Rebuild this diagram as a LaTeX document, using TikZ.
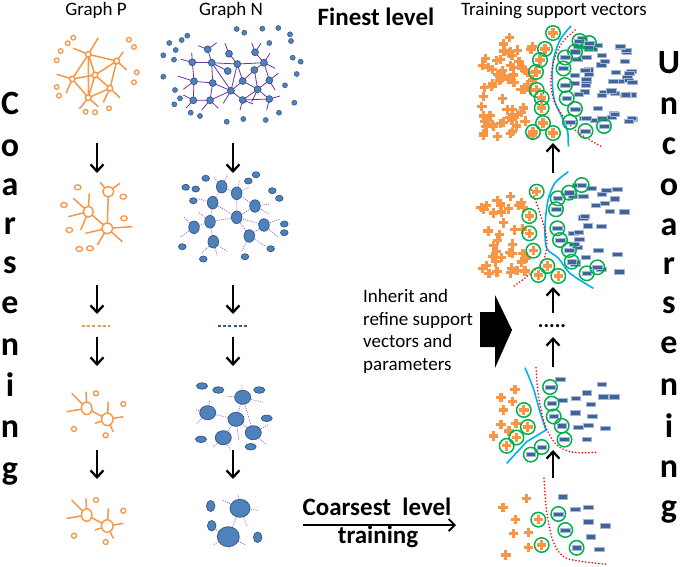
\documentclass[tikz,border=0pt]{standalone}
\usepackage{fontspec}
\setmainfont{Carlito}
\usetikzlibrary{arrows.meta,shapes.geometric}
\definecolor{orP}{HTML}{F79646}
\definecolor{nodeB}{HTML}{4F81BD}
\definecolor{nodeE}{HTML}{385D8A}
\definecolor{purp}{HTML}{7030A0}
\definecolor{purpL}{HTML}{9A66CC}
\definecolor{minusC}{HTML}{41639A}
\definecolor{minusE}{HTML}{A3B6D3}
\definecolor{svG}{HTML}{00B050}
\definecolor{cyanL}{HTML}{00B0F0}
\tikzset{
 pedge/.style={draw=orP, line width=1.5pt},
 pnode/.style={draw=orP, fill=white, line width=1.4pt, inner sep=0pt},
 nedge/.style={draw=purp, line width=0.8pt},
 ndot/.style={draw=purpL, line width=0.8pt, dash pattern=on 1pt off 1.2pt},
 nnode/.style={draw=nodeE, fill=nodeB, line width=0.8pt, inner sep=0pt},
 darr/.style={line width=2.3pt, -{Straight Barb[length=7pt,width=13pt]}},
 svc/.style={draw=svG, line width=1.5pt, circle, minimum size=14.5pt, inner sep=0pt},
 cyl/.style={draw=cyanL, line width=1.6pt},
 redl/.style={draw=red, line width=1.8pt, line cap=round, dash pattern=on 0pt off 3.3pt},
 pls/.pic={\draw[orP, line width=3.2pt] (-4.7,0)--(4.7,0) (0,-4.7)--(0,4.7);},
 mns/.pic={\draw[fill=minusC, draw=minusE, line width=0.6pt] (-4.8,-2.1) rectangle (4.8,2.1);},
 lbl/.style={font=\fontsize{19}{22}\selectfont, anchor=base, inner sep=0pt},
 blbl/.style={font=\fontsize{25}{30}\selectfont\bfseries, anchor=base, inner sep=0pt},
 big/.style={font=\fontsize{34}{40}\selectfont\bfseries, anchor=base, inner sep=0pt},
}
\begin{document}
\begin{tikzpicture}[x=1pt,y=-1pt]
\useasboundingbox (0,0) rectangle (685,566);

% ---------- titles ----------
\node[lbl] (tP) at (96,15) {Graph P};
\node[lbl] (tN) at (231,15) {Graph N};
\node[blbl] (tF) at (376,25) {Finest level};
\node[lbl] (tT) at (554,15) {Training support vectors};

% ---------- vertical words ----------
\foreach \c/\y [count=\i] in {C/114,o/156,a/195,r/234,s/273,e/313,n/355,i/396,n/437,g/479}
  {\node[big] (L\i) at (10,\y) {\c};}
\foreach \c/\y [count=\i] in {U/73,n/114,c/154,o/195,a/235,r/274,s/313,e/353,n/395,i/437,n/477,g/517}
  {\node[big] (R\i) at (669,\y) {\c};}

% ---------- coarsening arrows ----------
\foreach \x/\g in {97/P,233/N}{
  \coordinate (\g a1) at (\x,143); \coordinate (\g b1) at (\x,173);
  \coordinate (\g a2) at (\x,285); \coordinate (\g b2) at (\x,314);
  \coordinate (\g a3) at (\x,337); \coordinate (\g b3) at (\x,366);
  \coordinate (\g a4) at (\x,450); \coordinate (\g b4) at (\x,479);
  \foreach \j in {1,2,3,4} {\draw[darr] (\g a\j) -- (\g b\j);}
}
\coordinate (Pd1) at (82,326); \coordinate (Pd2) at (110,326);
\draw[orP, line width=2.2pt, dash pattern=on 3pt off 2.2pt] (Pd1)--(Pd2);
\coordinate (Nd1) at (218,326); \coordinate (Nd2) at (247,326);
\draw[nodeE, line width=2.2pt, dash pattern=on 3pt off 2.2pt] (Nd1)--(Nd2);

% ---------- Graph P, finest ----------
\foreach \n/\x/\y in {pA/88.3/54.3,pB/116.7/61,pC/95/75,pD/72.3/79,pE/110/88.3,pF/88.3/97.7}{\coordinate (\n) at (\x,\y);}
\draw[pedge] (pA)--(pB) (pA)--(pD) (pA)--(pC) (pA)--(pF) (pB)--(pC) (pB)--(pE) (pC)--(pD) (pC)--(pE) (pC)--(pF) (pD)--(pF) (pE)--(pF)
 (pA)--++(10,-16.6) (pA)--++(-15,-6) (pB)--++(6.6,-9.3) (pB)--++(10,9) (pD)--++(-15.6,-4.7) (pD)--++(-6.3,14.3)
 (pF)--++(-9,11.3) (pF)--++(10,9) (pE)--++(10,9.4) (pE)--++(-6.7,14);
\foreach \n in {pA,pB,pC,pD,pE,pF}{\node[pnode,circle,minimum size=5.6pt] (\n n) at (\n) {};}
\foreach \x/\y [count=\i] in {73.3/37.7,67.7/43.3,60.7/51,56.7/60.3,129/39.7,134/47,136.7/72.3,134/82.3,56.7/87,59/95.7,85.7/111.7,95/112.3,109/108.3}
  {\node[pnode,circle,minimum size=4.6pt,line width=1.3pt] (pi\i) at (\x,\y) {};}

% ---------- Graph N, finest ----------
\foreach \n/\x/\y in {n1/207.7/49.3,n2/229/53.7,n3/255/52.3,n4/192.3/62.3,n5/211.7/62.7,n6/237.3/64,n7/264/62.7,n8/227.7/71,n9/254.3/70,n10/194/81.3,n11/212.7/83,n12/242.7/81,n13/269.3/80.3,n14/231/90.7,n15/257.7/89.3,n16/193.3/100.3,n17/210/100.3,n18/242.7/100,n19/269.3/99}{\coordinate (\n) at (\x,\y);}
\draw[nedge] (n1)--(n5) (n4)--(n5) (n5)--(n6) (n2)--(n6) (n6)--(n7) (n3)--(n7) (n5)--(n8) (n5)--(n11) (n5)--(n14) (n4)--(n10)
 (n10)--(n11) (n10)--(n16) (n16)--(n17) (n11)--(n17) (n11)--(n14) (n17)--(n14) (n14)--(n12) (n14)--(n18) (n6)--(n14) (n6)--(n12)
 (n12)--(n9) (n9)--(n15) (n12)--(n15) (n15)--(n13) (n13)--(n7) (n15)--(n19) (n18)--(n15) (n9)--(n7) (n18)--(n19)
 (n1)--++(-9.4,-3.6) (n1)--++(9,-6.6) (n2)--++(-4,-10.4) (n3)--++(-3.3,-9.6) (n3)--++(6,-9) (n4)--++(-11.3,-3) (n4)--++(-0.6,-9.6)
 (n7)--++(6,-9.4) (n7)--++(11,5.6) (n10)--++(-16.3,-5.3) (n10)--++(-10.7,8) (n13)--++(9,-7) (n13)--++(5.7,9.7)
 (n16)--++(-10,-5.3) (n16)--++(-7.3,7.7) (n17)--++(-8.3,9.7) (n17)--++(8.3,8) (n14)--++(-7.7,12.6)
 (n18)--++(-2.7,10) (n18)--++(10.6,4) (n19)--++(-2.6,11) (n19)--++(10.7,-3) (n15)--++(-6,12.4);
\foreach \n in {n1,n2,n3,n4,n5,n6,n7,n8,n9,n10,n11,n12,n13,n14,n15,n16,n17,n18,n19}{\node[nnode,circle,minimum size=6.8pt] (\n n) at (\n) {};}
\foreach \x/\y [count=\i] in {169.3/43,181.7/40,187.3/35.7,175.7/50,163.3/55.3,174/59.7,163.3/76.7,175/90,180/98.3,174.3/104.3,190.7/112.7,200/116,226.7/121.7,243.3/119,265.7/120,279/112.7,294.3/102.7,285/85.3,296.7/74,292.7/57.7,300.7/61.7,290/34.3,291/41,278.3/28,262.3/28.7,236.7/29,244.3/32.7,269.3/43}
  {\node[nnode,circle,minimum size=5pt,line width=0.6pt] (nd\i) at (\x,\y) {};}

% ---------- Graph P, level 2 ----------
\coordinate (q1) at (88.3,211.7); \coordinate (q2) at (107.3,228.3); \coordinate (q3) at (108.3,191.7);
\draw[pedge] (q1)--(q2) (q3)--(q2)
 (q1)--++(-15,-13.4) (q1)--++(1,-18.4) (q1)--++(-20,5) (q1)--++(-7.6,18.3)
 (q2)--++(-21.7,5) (q2)--++(25,-1.6) (q2)--++(15,13.4) (q2)--++(-10,16.7)
 (q3)--++(-8.3,-9.4) (q3)--++(11.7,-8.4);
\node[pnode,ellipse,minimum width=10pt,minimum height=11pt] (q1n) at (q1) {};
\node[pnode,ellipse,minimum width=11pt,minimum height=11pt] (q2n) at (q2) {};
\node[pnode,ellipse,minimum width=11pt,minimum height=10.5pt] (q3n) at (q3) {};
\foreach \x/\y [count=\i] in {77.7/187.3,64/205,123.3/196.7,124/218.3,69.3/230,79.3/249,90/248.3}
  {\node[pnode,ellipse,minimum width=6.5pt,minimum height=5pt,line width=1.3pt] (qs\i) at (\x,\y) {};}

% ---------- Graph N, level 2 ----------
\foreach \n/\x/\y in {m1/221.7/186.7,m2/236.7/193.3,m3/212.7/202.7,m4/255/206,m5/236.7/217.3,m6/210/221.7,m7/264/225,m8/194/227.3,m9/213.3/241.7,m10/249.3/236}{\coordinate (\n) at (\x,\y);}
\draw[ndot] (m1)--(m3) (m2)--(m5) (m3)--(m5) (m5)--(m4) (m4)--(m2) (m6)--(m5) (m6)--(m8) (m6)--(m9) (m5)--(m7) (m7)--(m10) (m5)--(m10) (m1)--(m2) (m3)--(m6)
 (m1)--++(-8,-10) (m1)--++(6,-12) (m2)--++(3,-13) (m2)--++(12,-6) (m3)--++(-15,-4) (m4)--++(14,-2) (m4)--++(14,8)
 (m7)--++(16,-6) (m7)--++(14,12) (m8)--++(-14,10) (m8)--++(-10,-10) (m9)--++(-12,12) (m9)--++(4,14) (m9)--++(14,10)
 (m10)--++(-8,16) (m10)--++(16,10) (m6)--++(-12,-10);
\foreach \n in {m1,m2,m3,m4,m5,m6,m7,m8,m9,m10}{\node[nnode,ellipse,minimum width=10.5pt,minimum height=12.5pt] (\n n) at (\n) {};}
\foreach \x/\y [count=\i] in {205.7/178.3,185.7/187.3,195.7/189,256/174.7,248.3/181,193.3/200.7,272.3/190.7,279.3/198.3,284.3/224,284.3/232.7,182.3/246.7,203.3/259,245/256.7,270.7/248.7}
  {\node[nnode,ellipse,minimum width=7.5pt,minimum height=6pt] (ms\i) at (\x,\y) {};}

% ---------- Graph P, levels 3 and 4 ----------
\foreach \dy/\s in {0/a,106.7/b}{
 \begin{scope}[shift={(0,\dy)}]
  \coordinate (r1\s) at (86.7,408.3); \coordinate (r2\s) at (107.3,419.3);
  \draw[pedge] (r1\s)--(r2\s)
   (r1\s)--++(-20,3.4) (r1\s)--++(-15,-15) (r1\s)--++(-0.7,-16.6)
   (r2\s)--++(16,-2.6) (r2\s)--++(1,-17.6) (r2\s)--++(-12.3,4) (r2\s)--++(6,12.4);
  \node[pnode,ellipse,minimum width=10.5pt,minimum height=12.5pt] (r1\s n) at (r1\s) {};
  \node[pnode,ellipse,minimum width=11.5pt,minimum height=12.5pt] (r2\s n) at (r2\s) {};
  \foreach \x/\y [count=\i] in {96/393.3,123.3/404,74/429,105.7/435.3}
   {\node[pnode,circle,minimum size=5pt,line width=1.3pt] (rs\s\i) at (\x,\y) {};}
 \end{scope}
}

% ---------- Graph N, level 3 ----------
\foreach \n/\x/\y in {k1/242.7/397.3,k2/207.7/412.7,k3/236/419.3,k4/253.3/432.7,k5/223.3/437.7}{\coordinate (\n) at (\x,\y);}
\draw[ndot] (k2)--(k3) (k1)--(k3) (k3)--(k4) (k3)--(k5) (k1)--(k4)
 (k1)--++(-16,-1) (k1)--++(-1,-12) (k1)--++(20,5) (k2)--++(-11,11) (k2)--++(2,-13) (k2)--++(-12,-3)
 (k4)--++(13,12) (k4)--++(15,-8) (k5)--++(-10,9) (k5)--++(7,12) (k3)--++(3,22);
\foreach \n in {k1,k2,k3,k4,k5}{\node[nnode,ellipse,minimum width=16pt,minimum height=14pt] (\n n) at (\n) {};}
\foreach \x/\y [count=\i] in {202/386,218.3/390,259.3/390,266.7/418.3,201/439.3,250.7/446.7}
  {\node[nnode,ellipse,minimum width=11pt,minimum height=6.5pt] (ks\i) at (\x,\y) {};}

% ---------- Graph N, level 4 ----------
\foreach \n/\x/\y in {j1/240/508.3,j2/228.3/536.7}{\coordinate (\n) at (\x,\y);}
\draw[ndot] (j1)--(j2)
 (j1)--++(-17,-8) (j1)--++(-2,-14) (j1)--++(18,2) (j1)--++(7,18)
 (j2)--++(-15,-8) (j2)--++(-15,8) (j2)--++(17,8) (j2)--++(1,13);
\node[nnode,ellipse,minimum width=20pt,minimum height=18pt] (j1n) at (j1) {};
\node[nnode,ellipse,minimum width=22pt,minimum height=20pt] (j2n) at (j2) {};
\node[nnode,ellipse,minimum width=8.5pt,minimum height=11pt] (j3n) at (210.7,506) {};
\node[nnode,ellipse,minimum width=8.5pt,minimum height=10.5pt] (j4n) at (211.7,525.7) {};
\node[nnode,ellipse,minimum width=8.5pt,minimum height=10.5pt] (j5n) at (257.7,537.3) {};

% ---------- middle texts ----------
\node[lbl,anchor=base west] (i1) at (363,302) {Inherit and};
\node[lbl,anchor=base west] (i2) at (363,325) {refine support};
\node[lbl,anchor=base west] (i3) at (363,347) {vectors and};
\node[lbl,anchor=base west] (i4) at (363,370) {parameters};
\fill (480,312) -- (495,312) -- (495,295) -- (512,330) -- (495,368) -- (495,347) -- (480,347) -- cycle;

\node[blbl] (cl) at (377,515) {Coarsest\ \ level};
\node[blbl] (tr) at (378,543) {training};
\coordinate (ca1) at (303,525); \coordinate (ca2) at (456,525);
\draw[line width=1.8pt, -{Straight Barb[length=6pt,width=12pt]}] (ca1)--(ca2);

% ---------- uncoarsening arrows ----------
\coordinate (u1a) at (553,173); \coordinate (u1b) at (553,143);
\coordinate (u2a) at (553,313); \coordinate (u2b) at (553,287);
\coordinate (u3a) at (553,367); \coordinate (u3b) at (553,337);
\coordinate (u4a) at (553,478); \coordinate (u4b) at (553,450);
\foreach \j in {1,2,3,4}{\draw[darr] (u\j a)--(u\j b);}
\node[font=\fontsize{21}{24}\selectfont\bfseries, anchor=base, inner sep=0pt] (dots) at (552,327) {.....};

% ---------- SVM panel 1 (finest) ----------
\pgfmathsetseed{42}
\foreach \i in {1,...,76}{
  \pgfmathsetmacro\px{480+53*rnd}
  \pgfmathsetmacro\py{36+101*rnd}
  \pgfmathtruncatemacro\okk{(\px<502)&&(\py<58)}
  \ifnum\okk=0 \pic at (\px,\py) {pls};\fi
}
\foreach \i in {1,...,54}{
  \pgfmathsetmacro\px{574+59*rnd}
  \pgfmathsetmacro\py{38+84*rnd}
  \pic at (\px,\py) {mns};
}
\draw[cyl] plot[smooth] coordinates {(571,26) (560,40) (553.3,60) (552.3,80) (554.3,100) (563.3,120) (567.7,132) (568.3,146.7)};
\draw[redl] plot[smooth] coordinates {(575,30) (561.7,43.3) (553.3,63) (551,86.7) (556.7,106.7) (575,130) (601.7,146.7)};
\foreach \x/\y [count=\i] in {553/33,545/49,540/60,536/72,536.7/90,541.7/98,541.7/108,543/123,533/132,553/133}
  {\node[svc] (ca\i) at (\x,\y) {}; \pic at (\x,\y) {pls};}
\foreach \x/\y [count=\i] in {579.5/41,589/43,575/51.7,565/57.5,563.5/68.5,565/85,566.7/98.3,575/109,570/122,585.5/131,604/126}
  {\node[svc] (cb\i) at (\x,\y) {}; \pic at (\x,\y) {mns};}

% ---------- SVM panel 2 ----------
\pgfmathsetseed{7}
\foreach \i in {1,...,38}{
  \pgfmathsetmacro\px{481+46*rnd}
  \pgfmathsetmacro\py{191+85*rnd}
  \pic at (\px,\py) {pls};
}
\foreach \i in {1,...,28}{
  \pgfmathsetmacro\px{571+60*rnd}
  \pgfmathsetmacro\py{184+88*rnd}
  \pic at (\px,\py) {mns};
}
\draw[cyl] plot[smooth] coordinates {(568.3,171.7) (555,183) (548,200) (545,226.7) (546.7,248.3) (558.3,258) (570,273.3) (593.3,288.3)};
\draw[redl] plot[smooth] coordinates {(531.7,190) (540,213.3) (546.7,240) (541.7,263.3) (513.3,286.7)};
\foreach \x/\y [count=\i] in {536.7/191.7,529.3/216,529.3/233.3,533.3/250.7,547.3/266,538.3/275,558.3/276}
  {\node[svc] (cc\i) at (\x,\y) {}; \pic at (\x,\y) {pls};}
\foreach \x/\y [count=\i] in {581.7/185,569/192.7,557.7/198.3,556/209.3,557.3/228.3,560/240,569/250,571.7/261.7,586.7/273.3,597.3/267.3}
  {\node[svc] (cd\i) at (\x,\y) {}; \pic at (\x,\y) {mns};}

% ---------- SVM panel 3 ----------
\foreach \x/\y in {515/389.3,501/397.7,512.7/401.7,503.3/410,501/424.3,516/423.3,509/431,493.3/436}{\pic at (\x,\y) {pls};}
\foreach \x/\y in {560/379,562.7/400,575.7/398.3,586.7/392.7,601.7/384.3,603.3/396.7,614.3/396.7,590.7/404.3,575/412.7,592.3/416,578.3/427,588.3/425,605/428.3,586.7/439.3}{\pic at (\x,\y) {mns};}
\draw[cyl] plot[smooth] coordinates {(525,367.7) (533.3,388.3) (540,411.7) (546,430)} -- (526.7,441.7) -- (506.7,463.3);
\draw[redl] plot[smooth] coordinates {(536,367.7) (538.3,395) (545,425) (556.7,445) (573.3,452.3) (598.3,452.3)};
\foreach \x/\y [count=\i] in {523.8/410,527.8/427,516.4/437.5,506.7/445.8}
  {\node[svc] (ce\i) at (\x,\y) {}; \pic at (\x,\y) {pls};}
\foreach \x/\y [count=\i] in {530.8/454.6,541.7/447,550/387,551.7/403.6,553.7/416.5,561.7/425.8,564.5/439.6}
  {\node[svc] (cf\i) at (\x,\y) {}; \pic at (\x,\y) {mns};}

% ---------- SVM panel 4 (coarsest) ----------
\foreach \x/\y in {526.7/498.6,503/507.3,515.5/519.3,513.3/533.6,528.3/532.2,528.3/547.3,505.8/555}{\pic at (\x,\y) {pls};}
\foreach \x/\y in {562.7/496.7,575/509.3,588.3/507.5,588.3/521.7,605/525.8,590.7/536.7,599.3/549.2}{\pic at (\x,\y) {mns};}
\draw[redl] plot[smooth] coordinates {(544,478.3) (546.7,511.7) (553.3,541.7) (566.7,558.3) (606.7,564.3)};
\foreach \x/\y [count=\i] in {538.3/519.6,541.7/545}
  {\node[svc] (cg\i) at (\x,\y) {}; \pic at (\x,\y) {pls};}
\foreach \x/\y [count=\i] in {558.3/514,565.3/530,576.6/547.8}
  {\node[svc] (ch\i) at (\x,\y) {}; \pic at (\x,\y) {mns};}
\end{tikzpicture}
\end{document}
